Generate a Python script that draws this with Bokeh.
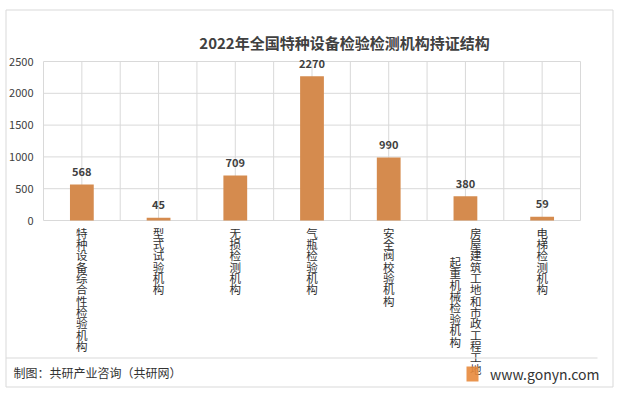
from bokeh.plotting import figure
from bokeh.models import ColumnDataSource
from bokeh.embed import file_html
from bokeh.resources import INLINE
from bokeh.core.properties import value

# ---- data ----
chart_title = "2022年全国特种设备检验检测机构持证结构"
categories = [
    "特种设备综合性检验机构",
    "型式试验机构",
    "无损检测机构",
    "气瓶检验机构",
    "安全阀校验机构",
    "房屋建筑工地和市政工程工地起重机械检验机构",
    "电梯检测机构",
]
counts = [568, 45, 709, 2270, 990, 380, 59]
y_ticks = [0, 500, 1000, 1500, 2000, 2500]
source_note = "制图：共研产业咨询（共研网）"
site_name = "www.gonyn.com"

# ---- style / layout (page pixels) ----
FONT = value("Noto Sans CJK SC")
BAR = "#D58B4E"
GRID = "#d9d9d9"
TXT = "#404040"
W, H = 618, 395
PL, PR, PT, PB = 43, 580, 61, 220      # plot area edges in page px
NC = len(categories)
YMAX = y_ticks[-1]
SX = NC / (PR - PL)                     # data x per px
SY = YMAX / (PB - PT)                   # data y per px


def ux(px):
    return -0.5 + (px - PL) * SX


def uy(py):
    return (PB - py) * SY


p = figure(width=W, height=H, output_backend="svg", toolbar_location=None,
           x_range=(ux(0), ux(W)), y_range=(uy(H), uy(0)),
           min_border=0, background_fill_color="white",
           border_fill_color="white")
p.outline_line_color = None
p.xaxis.visible = False
p.yaxis.visible = False
p.grid.visible = False

# grid lines (through the data scales)
half = [i * 0.5 - 0.5 for i in range(2 * NC + 1)]
p.segment(x0=half, x1=half, y0=[0] * len(half), y1=[YMAX] * len(half),
          line_color=GRID, line_width=1)
p.segment(x0=[-0.5] * len(y_ticks), x1=[NC - 0.5] * len(y_ticks),
          y0=y_ticks, y1=y_ticks, line_color=GRID, line_width=1)

# y tick labels
p.text(x=[-0.5] * len(y_ticks), y=y_ticks, text=[str(t) for t in y_ticks],
       x_offset=-10, text_align="right", text_baseline="middle",
       text_font=FONT, text_font_size="11px", text_color=TXT)

# bars and value labels
xs = list(range(NC))
src = ColumnDataSource(dict(x=xs, y=counts, label=[str(v) for v in counts]))
p.vbar(x="x", top="y", width=0.31, source=src, fill_color=BAR, line_color=None)
p.text(x="x", y="y", text="label", source=src, y_offset=-13,
       text_align="center", text_baseline="middle", text_font=FONT,
       text_font_size="11px", text_font_style="bold", text_color=TXT)

# category labels: stacked characters, columns right-to-left
MAXC = 13
LINE = 11.8
COLGAP = 20.5
lx, ly, ltxt, lxo, lyo = [], [], [], [], []
for i, name in enumerate(categories):
    cols = [name[k:k + MAXC] for k in range(0, len(name), MAXC)]
    n = len(cols)
    longest = max(len(c) for c in cols)
    for k, col in enumerate(cols):
        lx.append(i)
        ly.append(0)
        ltxt.append("\n".join(col))
        lxo.append(((n - 1) / 2 - k) * COLGAP)
        lyo.append(4 + (longest - len(col)) / 2 * LINE)
p.text(x=lx, y=ly, text=ltxt, x_offset=lxo, y_offset=lyo,
       text_align="center", text_baseline="top", text_font=FONT,
       text_font_size="11.5px", text_line_height=0.71,
       text_color="#2f2f2f")

# title
p.text(x=[ux(344)], y=[uy(42)], text=[chart_title], text_align="center",
       text_baseline="middle", text_font=FONT, text_font_size="15px",
       text_font_style="bold", text_color=TXT)

# footer: separator, logo, texts; outer border
p.segment(x0=[ux(5.5)], x1=[ux(597)], y0=[uy(357.5)], y1=[uy(357.5)],
          line_color=GRID, line_width=1)
p.quad(left=[ux(466)], right=[ux(478)], top=[uy(366)], bottom=[uy(381)],
       fill_color="#E88A3C", fill_alpha=0.9, line_color=None)
p.text(x=[ux(13)], y=[uy(372)], text=[source_note], text_align="left",
       text_baseline="middle", text_font=FONT, text_font_size="12px",
       text_color="#333333")
p.text(x=[ux(599)], y=[uy(373)], text=[site_name], text_align="right",
       text_baseline="middle", text_font=FONT, text_font_size="14px",
       text_color="#333333")
p.quad(left=[ux(5.5)], right=[ux(612.5)], top=[uy(9.5)], bottom=[uy(386.5)],
       fill_alpha=0, line_color=GRID, line_width=1)

open("out.html", "w").write(file_html(p, INLINE))
